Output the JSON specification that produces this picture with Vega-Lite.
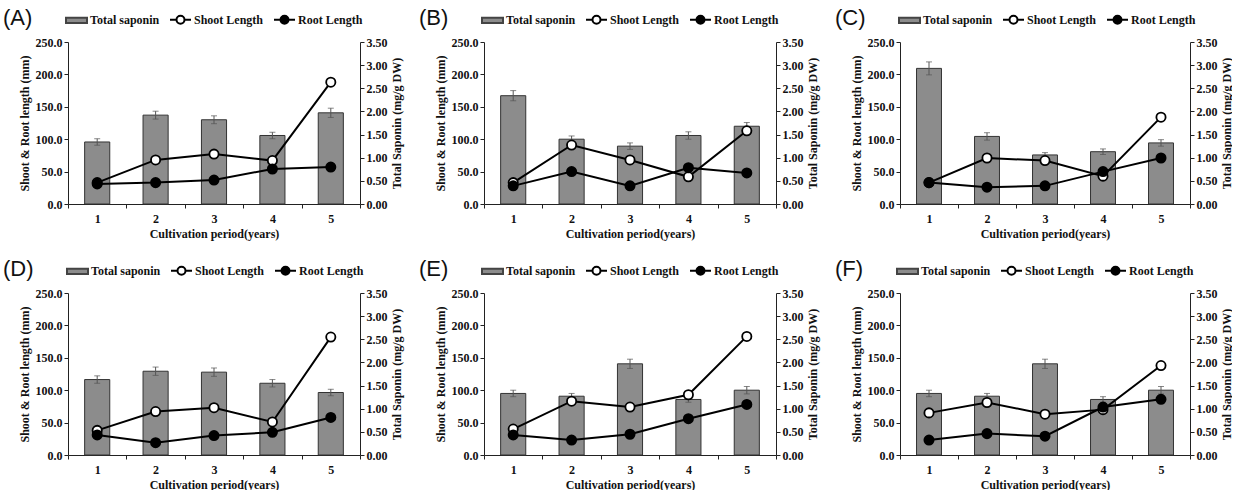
{
"$schema":"https://vega.github.io/schema/vega-lite/v6.json",
"padding":{"left":3,"top":8,"right":0,"bottom":0},
"config":{
 "view":{"stroke":null},
 "axis":{"labelFont":"Liberation Serif","labelFontWeight":"bold","labelFontSize":12,"labelColor":"#111","titleFont":"Liberation Serif","titleFontWeight":"bold","titleFontSize":12,"titleColor":"#111","domainColor":"#222","tickColor":"#222","grid":false,"tickSize":4},
 "legend":{"orient":"none","direction":"horizontal","columns":3,"titleOrient":"left","titleFont":"Liberation Sans","titleFontSize":22,"titleFontWeight":"normal","titleColor":"#111","titlePadding":32,"labelFont":"Liberation Serif","labelFontWeight":"bold","labelFontSize":12,"labelColor":"#111","symbolSize":441,"symbolStrokeWidth":2,"symbolOpacity":1,"columnPadding":6,"labelOffset":2}
},
"datasets":{
 "sap":[
  {"panel":"A","year":1,"saponin":1.34,"err":0.07},{"panel":"A","year":2,"saponin":1.92,"err":0.085},{"panel":"A","year":3,"saponin":1.82,"err":0.085},{"panel":"A","year":4,"saponin":1.48,"err":0.07},{"panel":"A","year":5,"saponin":1.97,"err":0.1},
  {"panel":"B","year":1,"saponin":2.34,"err":0.11},{"panel":"B","year":2,"saponin":1.40,"err":0.07},{"panel":"B","year":3,"saponin":1.25,"err":0.07},{"panel":"B","year":4,"saponin":1.48,"err":0.08},{"panel":"B","year":5,"saponin":1.68,"err":0.08},
  {"panel":"C","year":1,"saponin":2.93,"err":0.14},{"panel":"C","year":2,"saponin":1.46,"err":0.08},{"panel":"C","year":3,"saponin":1.06,"err":0.05},{"panel":"C","year":4,"saponin":1.13,"err":0.06},{"panel":"C","year":5,"saponin":1.32,"err":0.07},
  {"panel":"D","year":1,"saponin":1.63,"err":0.08},{"panel":"D","year":2,"saponin":1.81,"err":0.09},{"panel":"D","year":3,"saponin":1.79,"err":0.09},{"panel":"D","year":4,"saponin":1.55,"err":0.08},{"panel":"D","year":5,"saponin":1.35,"err":0.07},
  {"panel":"E","year":1,"saponin":1.33,"err":0.07},{"panel":"E","year":2,"saponin":1.27,"err":0.06},{"panel":"E","year":3,"saponin":1.97,"err":0.1},{"panel":"E","year":4,"saponin":1.20,"err":0.06},{"panel":"E","year":5,"saponin":1.40,"err":0.08},
  {"panel":"F","year":1,"saponin":1.33,"err":0.07},{"panel":"F","year":2,"saponin":1.27,"err":0.06},{"panel":"F","year":3,"saponin":1.97,"err":0.1},{"panel":"F","year":4,"saponin":1.20,"err":0.06},{"panel":"F","year":5,"saponin":1.40,"err":0.08}
 ],
 "len":[
  {"panel":"A","year":1,"series":"Shoot Length","length":33},{"panel":"A","year":2,"series":"Shoot Length","length":68},{"panel":"A","year":3,"series":"Shoot Length","length":77},{"panel":"A","year":4,"series":"Shoot Length","length":67},{"panel":"A","year":5,"series":"Shoot Length","length":188},
  {"panel":"A","year":1,"series":"Root Length","length":31},{"panel":"A","year":2,"series":"Root Length","length":33},{"panel":"A","year":3,"series":"Root Length","length":37},{"panel":"A","year":4,"series":"Root Length","length":54},{"panel":"A","year":5,"series":"Root Length","length":57},
  {"panel":"B","year":1,"series":"Shoot Length","length":33},{"panel":"B","year":2,"series":"Shoot Length","length":91},{"panel":"B","year":3,"series":"Shoot Length","length":68},{"panel":"B","year":4,"series":"Shoot Length","length":42},{"panel":"B","year":5,"series":"Shoot Length","length":113},
  {"panel":"B","year":1,"series":"Root Length","length":28},{"panel":"B","year":2,"series":"Root Length","length":50},{"panel":"B","year":3,"series":"Root Length","length":28},{"panel":"B","year":4,"series":"Root Length","length":56},{"panel":"B","year":5,"series":"Root Length","length":48},
  {"panel":"C","year":1,"series":"Shoot Length","length":33},{"panel":"C","year":2,"series":"Shoot Length","length":71},{"panel":"C","year":3,"series":"Shoot Length","length":67},{"panel":"C","year":4,"series":"Shoot Length","length":43},{"panel":"C","year":5,"series":"Shoot Length","length":134},
  {"panel":"C","year":1,"series":"Root Length","length":33},{"panel":"C","year":2,"series":"Root Length","length":26},{"panel":"C","year":3,"series":"Root Length","length":28},{"panel":"C","year":4,"series":"Root Length","length":50},{"panel":"C","year":5,"series":"Root Length","length":71},
  {"panel":"D","year":1,"series":"Shoot Length","length":38},{"panel":"D","year":2,"series":"Shoot Length","length":67},{"panel":"D","year":3,"series":"Shoot Length","length":73},{"panel":"D","year":4,"series":"Shoot Length","length":51},{"panel":"D","year":5,"series":"Shoot Length","length":182},
  {"panel":"D","year":1,"series":"Root Length","length":31},{"panel":"D","year":2,"series":"Root Length","length":19},{"panel":"D","year":3,"series":"Root Length","length":30},{"panel":"D","year":4,"series":"Root Length","length":35},{"panel":"D","year":5,"series":"Root Length","length":58},
  {"panel":"E","year":1,"series":"Shoot Length","length":40},{"panel":"E","year":2,"series":"Shoot Length","length":83},{"panel":"E","year":3,"series":"Shoot Length","length":74},{"panel":"E","year":4,"series":"Shoot Length","length":93},{"panel":"E","year":5,"series":"Shoot Length","length":183},
  {"panel":"E","year":1,"series":"Root Length","length":31},{"panel":"E","year":2,"series":"Root Length","length":23},{"panel":"E","year":3,"series":"Root Length","length":32},{"panel":"E","year":4,"series":"Root Length","length":56},{"panel":"E","year":5,"series":"Root Length","length":78},
  {"panel":"F","year":1,"series":"Shoot Length","length":65},{"panel":"F","year":2,"series":"Shoot Length","length":81},{"panel":"F","year":3,"series":"Shoot Length","length":63},{"panel":"F","year":4,"series":"Shoot Length","length":70},{"panel":"F","year":5,"series":"Shoot Length","length":138},
  {"panel":"F","year":1,"series":"Root Length","length":23},{"panel":"F","year":2,"series":"Root Length","length":33},{"panel":"F","year":3,"series":"Root Length","length":29},{"panel":"F","year":4,"series":"Root Length","length":74},{"panel":"F","year":5,"series":"Root Length","length":86}
 ]
},
"columns":3,
"spacing":{"column":17,"row":20},
"resolve":{"scale":{"shape":"independent","fill":"independent","stroke":"independent"},"legend":{"shape":"independent","fill":"independent","stroke":"independent"}},
"concat":[
 {"width":292,"height":162,"resolve":{"scale":{"y":"independent"}},"layer":[
  {"data":{"name":"sap"},"transform":[{"filter":"datum.panel==='A'"}],"layer":[
   {"mark":{"type":"bar","width":{"band":0.43},"fill":"#8c8c8c","stroke":"#333","strokeWidth":1},"encoding":{"x":{"field":"year","type":"ordinal","scale":{"type":"band","paddingInner":0,"paddingOuter":0},"axis":{"title":"Cultivation period(years)","labelAngle":0,"tickBand":"extent","labelPadding":5,"titlePadding":4}},"y":{"field":"saponin","type":"quantitative","scale":{"domain":[0,3.5]},"axis":{"orient":"right","title":"Total Saponin (mg/g DW)","titleAngle":-90,"titleBaseline":"top","format":".2f","values":[0,0.5,1,1.5,2,2.5,3,3.5]}}}},
   {"mark":{"type":"errorbar","ticks":{"size":6},"color":"#555"},"encoding":{"x":{"field":"year","type":"ordinal","scale":{"type":"band","paddingInner":0,"paddingOuter":0},"axis":{"title":"Cultivation period(years)","labelAngle":0,"tickBand":"extent","labelPadding":5,"titlePadding":4}},"y":{"field":"saponin","type":"quantitative","scale":{"domain":[0,3.5]},"axis":{"orient":"right","title":"Total Saponin (mg/g DW)","titleAngle":-90,"titleBaseline":"top","format":".2f","values":[0,0.5,1,1.5,2,2.5,3,3.5]}},"yError":{"field":"err"}}}
  ]},
  {"data":{"name":"len"},"transform":[{"filter":"datum.panel==='A'"}],"layer":[
   {"mark":{"type":"line","color":"black","strokeWidth":2},"encoding":{"x":{"field":"year","type":"ordinal","scale":{"type":"band","paddingInner":0,"paddingOuter":0},"axis":{"title":"Cultivation period(years)","labelAngle":0,"tickBand":"extent","labelPadding":5,"titlePadding":4}},"y":{"field":"length","type":"quantitative","scale":{"domain":[0,250]},"axis":{"orient":"left","title":"Shoot & Root length (mm)","format":".1f","values":[0,50,100,150,200,250]}},"detail":{"field":"series"}}},
   {"mark":{"type":"point","filled":true,"size":85,"stroke":"black","strokeWidth":1.8,"opacity":1},"encoding":{"x":{"field":"year","type":"ordinal","scale":{"type":"band","paddingInner":0,"paddingOuter":0},"axis":{"title":"Cultivation period(years)","labelAngle":0,"tickBand":"extent","labelPadding":5,"titlePadding":4}},"y":{"field":"length","type":"quantitative","scale":{"domain":[0,250]},"axis":{"orient":"left","title":"Shoot & Root length (mm)","format":".1f","values":[0,50,100,150,200,250]}},"fill":{"field":"series","type":"nominal","scale":{"domain":["Total saponin","Shoot Length","Root Length"],"range":["#8c8c8c","#ffffff","#000000"]},"legend":{"title":"(A)","legendX":-65,"legendY":-34}}}}
  ]},
  {"data":{"name":"len"},"transform":[{"filter":"datum.panel==='A'"}],"mark":{"type":"point","filled":true,"opacity":0},"encoding":{
   "shape":{"field":"series","type":"nominal","scale":{"domain":["Total saponin","Shoot Length","Root Length"],"range":["M-1,-0.26L1,-0.26L1,0.26L-1,0.26Z","M-1,0L-0.38,0M0.38,0L1,0M-0.38,0A0.38,0.38,0,1,0,0.38,0A0.38,0.38,0,1,0,-0.38,0Z","M-1,0L-0.38,0M0.38,0L1,0M-0.38,0A0.38,0.38,0,1,0,0.38,0A0.38,0.38,0,1,0,-0.38,0Z"]},"legend":{"title":"(A)","legendX":-65,"legendY":-34}},
   "fill":{"field":"series","type":"nominal","scale":{"domain":["Total saponin","Shoot Length","Root Length"],"range":["#8c8c8c","#ffffff","#000000"]},"legend":{"title":"(A)","legendX":-65,"legendY":-34}},
   "stroke":{"field":"series","type":"nominal","scale":{"domain":["Total saponin","Shoot Length","Root Length"],"range":["#444444","#000000","#000000"]},"legend":{"title":"(A)","legendX":-65,"legendY":-34}}
  }}
 ]},
 {"width":292,"height":162,"resolve":{"scale":{"y":"independent"}},"layer":[
  {"data":{"name":"sap"},"transform":[{"filter":"datum.panel==='B'"}],"layer":[
   {"mark":{"type":"bar","width":{"band":0.43},"fill":"#8c8c8c","stroke":"#333","strokeWidth":1},"encoding":{"x":{"field":"year","type":"ordinal","scale":{"type":"band","paddingInner":0,"paddingOuter":0},"axis":{"title":"Cultivation period(years)","labelAngle":0,"tickBand":"extent","labelPadding":5,"titlePadding":4}},"y":{"field":"saponin","type":"quantitative","scale":{"domain":[0,3.5]},"axis":{"orient":"right","title":"Total Saponin (mg/g DW)","titleAngle":-90,"titleBaseline":"top","format":".2f","values":[0,0.5,1,1.5,2,2.5,3,3.5]}}}},
   {"mark":{"type":"errorbar","ticks":{"size":6},"color":"#555"},"encoding":{"x":{"field":"year","type":"ordinal","scale":{"type":"band","paddingInner":0,"paddingOuter":0},"axis":{"title":"Cultivation period(years)","labelAngle":0,"tickBand":"extent","labelPadding":5,"titlePadding":4}},"y":{"field":"saponin","type":"quantitative","scale":{"domain":[0,3.5]},"axis":{"orient":"right","title":"Total Saponin (mg/g DW)","titleAngle":-90,"titleBaseline":"top","format":".2f","values":[0,0.5,1,1.5,2,2.5,3,3.5]}},"yError":{"field":"err"}}}
  ]},
  {"data":{"name":"len"},"transform":[{"filter":"datum.panel==='B'"}],"layer":[
   {"mark":{"type":"line","color":"black","strokeWidth":2},"encoding":{"x":{"field":"year","type":"ordinal","scale":{"type":"band","paddingInner":0,"paddingOuter":0},"axis":{"title":"Cultivation period(years)","labelAngle":0,"tickBand":"extent","labelPadding":5,"titlePadding":4}},"y":{"field":"length","type":"quantitative","scale":{"domain":[0,250]},"axis":{"orient":"left","title":"Shoot & Root length (mm)","format":".1f","values":[0,50,100,150,200,250]}},"detail":{"field":"series"}}},
   {"mark":{"type":"point","filled":true,"size":85,"stroke":"black","strokeWidth":1.8,"opacity":1},"encoding":{"x":{"field":"year","type":"ordinal","scale":{"type":"band","paddingInner":0,"paddingOuter":0},"axis":{"title":"Cultivation period(years)","labelAngle":0,"tickBand":"extent","labelPadding":5,"titlePadding":4}},"y":{"field":"length","type":"quantitative","scale":{"domain":[0,250]},"axis":{"orient":"left","title":"Shoot & Root length (mm)","format":".1f","values":[0,50,100,150,200,250]}},"fill":{"field":"series","type":"nominal","scale":{"domain":["Total saponin","Shoot Length","Root Length"],"range":["#8c8c8c","#ffffff","#000000"]},"legend":{"title":"(B)","legendX":-65,"legendY":-34}}}}
  ]},
  {"data":{"name":"len"},"transform":[{"filter":"datum.panel==='B'"}],"mark":{"type":"point","filled":true,"opacity":0},"encoding":{
   "shape":{"field":"series","type":"nominal","scale":{"domain":["Total saponin","Shoot Length","Root Length"],"range":["M-1,-0.26L1,-0.26L1,0.26L-1,0.26Z","M-1,0L-0.38,0M0.38,0L1,0M-0.38,0A0.38,0.38,0,1,0,0.38,0A0.38,0.38,0,1,0,-0.38,0Z","M-1,0L-0.38,0M0.38,0L1,0M-0.38,0A0.38,0.38,0,1,0,0.38,0A0.38,0.38,0,1,0,-0.38,0Z"]},"legend":{"title":"(B)","legendX":-65,"legendY":-34}},
   "fill":{"field":"series","type":"nominal","scale":{"domain":["Total saponin","Shoot Length","Root Length"],"range":["#8c8c8c","#ffffff","#000000"]},"legend":{"title":"(B)","legendX":-65,"legendY":-34}},
   "stroke":{"field":"series","type":"nominal","scale":{"domain":["Total saponin","Shoot Length","Root Length"],"range":["#444444","#000000","#000000"]},"legend":{"title":"(B)","legendX":-65,"legendY":-34}}
  }}
 ]},
 {"width":290,"height":162,"resolve":{"scale":{"y":"independent"}},"layer":[
  {"data":{"name":"sap"},"transform":[{"filter":"datum.panel==='C'"}],"layer":[
   {"mark":{"type":"bar","width":{"band":0.43},"fill":"#8c8c8c","stroke":"#333","strokeWidth":1},"encoding":{"x":{"field":"year","type":"ordinal","scale":{"type":"band","paddingInner":0,"paddingOuter":0},"axis":{"title":"Cultivation period(years)","labelAngle":0,"tickBand":"extent","labelPadding":5,"titlePadding":4}},"y":{"field":"saponin","type":"quantitative","scale":{"domain":[0,3.5]},"axis":{"orient":"right","title":"Total Saponin (mg/g DW)","titleAngle":-90,"titleBaseline":"top","format":".2f","values":[0,0.5,1,1.5,2,2.5,3,3.5]}}}},
   {"mark":{"type":"errorbar","ticks":{"size":6},"color":"#555"},"encoding":{"x":{"field":"year","type":"ordinal","scale":{"type":"band","paddingInner":0,"paddingOuter":0},"axis":{"title":"Cultivation period(years)","labelAngle":0,"tickBand":"extent","labelPadding":5,"titlePadding":4}},"y":{"field":"saponin","type":"quantitative","scale":{"domain":[0,3.5]},"axis":{"orient":"right","title":"Total Saponin (mg/g DW)","titleAngle":-90,"titleBaseline":"top","format":".2f","values":[0,0.5,1,1.5,2,2.5,3,3.5]}},"yError":{"field":"err"}}}
  ]},
  {"data":{"name":"len"},"transform":[{"filter":"datum.panel==='C'"}],"layer":[
   {"mark":{"type":"line","color":"black","strokeWidth":2},"encoding":{"x":{"field":"year","type":"ordinal","scale":{"type":"band","paddingInner":0,"paddingOuter":0},"axis":{"title":"Cultivation period(years)","labelAngle":0,"tickBand":"extent","labelPadding":5,"titlePadding":4}},"y":{"field":"length","type":"quantitative","scale":{"domain":[0,250]},"axis":{"orient":"left","title":"Shoot & Root length (mm)","format":".1f","values":[0,50,100,150,200,250]}},"detail":{"field":"series"}}},
   {"mark":{"type":"point","filled":true,"size":85,"stroke":"black","strokeWidth":1.8,"opacity":1},"encoding":{"x":{"field":"year","type":"ordinal","scale":{"type":"band","paddingInner":0,"paddingOuter":0},"axis":{"title":"Cultivation period(years)","labelAngle":0,"tickBand":"extent","labelPadding":5,"titlePadding":4}},"y":{"field":"length","type":"quantitative","scale":{"domain":[0,250]},"axis":{"orient":"left","title":"Shoot & Root length (mm)","format":".1f","values":[0,50,100,150,200,250]}},"fill":{"field":"series","type":"nominal","scale":{"domain":["Total saponin","Shoot Length","Root Length"],"range":["#8c8c8c","#ffffff","#000000"]},"legend":{"title":"(C)","legendX":-65,"legendY":-34}}}}
  ]},
  {"data":{"name":"len"},"transform":[{"filter":"datum.panel==='C'"}],"mark":{"type":"point","filled":true,"opacity":0},"encoding":{
   "shape":{"field":"series","type":"nominal","scale":{"domain":["Total saponin","Shoot Length","Root Length"],"range":["M-1,-0.26L1,-0.26L1,0.26L-1,0.26Z","M-1,0L-0.38,0M0.38,0L1,0M-0.38,0A0.38,0.38,0,1,0,0.38,0A0.38,0.38,0,1,0,-0.38,0Z","M-1,0L-0.38,0M0.38,0L1,0M-0.38,0A0.38,0.38,0,1,0,0.38,0A0.38,0.38,0,1,0,-0.38,0Z"]},"legend":{"title":"(C)","legendX":-65,"legendY":-34}},
   "fill":{"field":"series","type":"nominal","scale":{"domain":["Total saponin","Shoot Length","Root Length"],"range":["#8c8c8c","#ffffff","#000000"]},"legend":{"title":"(C)","legendX":-65,"legendY":-34}},
   "stroke":{"field":"series","type":"nominal","scale":{"domain":["Total saponin","Shoot Length","Root Length"],"range":["#444444","#000000","#000000"]},"legend":{"title":"(C)","legendX":-65,"legendY":-34}}
  }}
 ]},
 {"width":292,"height":162,"resolve":{"scale":{"y":"independent"}},"layer":[
  {"data":{"name":"sap"},"transform":[{"filter":"datum.panel==='D'"}],"layer":[
   {"mark":{"type":"bar","width":{"band":0.43},"fill":"#8c8c8c","stroke":"#333","strokeWidth":1},"encoding":{"x":{"field":"year","type":"ordinal","scale":{"type":"band","paddingInner":0,"paddingOuter":0},"axis":{"title":"Cultivation period(years)","labelAngle":0,"tickBand":"extent","labelPadding":5,"titlePadding":4}},"y":{"field":"saponin","type":"quantitative","scale":{"domain":[0,3.5]},"axis":{"orient":"right","title":"Total Saponin (mg/g DW)","titleAngle":-90,"titleBaseline":"top","format":".2f","values":[0,0.5,1,1.5,2,2.5,3,3.5]}}}},
   {"mark":{"type":"errorbar","ticks":{"size":6},"color":"#555"},"encoding":{"x":{"field":"year","type":"ordinal","scale":{"type":"band","paddingInner":0,"paddingOuter":0},"axis":{"title":"Cultivation period(years)","labelAngle":0,"tickBand":"extent","labelPadding":5,"titlePadding":4}},"y":{"field":"saponin","type":"quantitative","scale":{"domain":[0,3.5]},"axis":{"orient":"right","title":"Total Saponin (mg/g DW)","titleAngle":-90,"titleBaseline":"top","format":".2f","values":[0,0.5,1,1.5,2,2.5,3,3.5]}},"yError":{"field":"err"}}}
  ]},
  {"data":{"name":"len"},"transform":[{"filter":"datum.panel==='D'"}],"layer":[
   {"mark":{"type":"line","color":"black","strokeWidth":2},"encoding":{"x":{"field":"year","type":"ordinal","scale":{"type":"band","paddingInner":0,"paddingOuter":0},"axis":{"title":"Cultivation period(years)","labelAngle":0,"tickBand":"extent","labelPadding":5,"titlePadding":4}},"y":{"field":"length","type":"quantitative","scale":{"domain":[0,250]},"axis":{"orient":"left","title":"Shoot & Root length (mm)","format":".1f","values":[0,50,100,150,200,250]}},"detail":{"field":"series"}}},
   {"mark":{"type":"point","filled":true,"size":85,"stroke":"black","strokeWidth":1.8,"opacity":1},"encoding":{"x":{"field":"year","type":"ordinal","scale":{"type":"band","paddingInner":0,"paddingOuter":0},"axis":{"title":"Cultivation period(years)","labelAngle":0,"tickBand":"extent","labelPadding":5,"titlePadding":4}},"y":{"field":"length","type":"quantitative","scale":{"domain":[0,250]},"axis":{"orient":"left","title":"Shoot & Root length (mm)","format":".1f","values":[0,50,100,150,200,250]}},"fill":{"field":"series","type":"nominal","scale":{"domain":["Total saponin","Shoot Length","Root Length"],"range":["#8c8c8c","#ffffff","#000000"]},"legend":{"title":"(D)","legendX":-65,"legendY":-34}}}}
  ]},
  {"data":{"name":"len"},"transform":[{"filter":"datum.panel==='D'"}],"mark":{"type":"point","filled":true,"opacity":0},"encoding":{
   "shape":{"field":"series","type":"nominal","scale":{"domain":["Total saponin","Shoot Length","Root Length"],"range":["M-1,-0.26L1,-0.26L1,0.26L-1,0.26Z","M-1,0L-0.38,0M0.38,0L1,0M-0.38,0A0.38,0.38,0,1,0,0.38,0A0.38,0.38,0,1,0,-0.38,0Z","M-1,0L-0.38,0M0.38,0L1,0M-0.38,0A0.38,0.38,0,1,0,0.38,0A0.38,0.38,0,1,0,-0.38,0Z"]},"legend":{"title":"(D)","legendX":-65,"legendY":-34}},
   "fill":{"field":"series","type":"nominal","scale":{"domain":["Total saponin","Shoot Length","Root Length"],"range":["#8c8c8c","#ffffff","#000000"]},"legend":{"title":"(D)","legendX":-65,"legendY":-34}},
   "stroke":{"field":"series","type":"nominal","scale":{"domain":["Total saponin","Shoot Length","Root Length"],"range":["#444444","#000000","#000000"]},"legend":{"title":"(D)","legendX":-65,"legendY":-34}}
  }}
 ]},
 {"width":292,"height":162,"resolve":{"scale":{"y":"independent"}},"layer":[
  {"data":{"name":"sap"},"transform":[{"filter":"datum.panel==='E'"}],"layer":[
   {"mark":{"type":"bar","width":{"band":0.43},"fill":"#8c8c8c","stroke":"#333","strokeWidth":1},"encoding":{"x":{"field":"year","type":"ordinal","scale":{"type":"band","paddingInner":0,"paddingOuter":0},"axis":{"title":"Cultivation period(years)","labelAngle":0,"tickBand":"extent","labelPadding":5,"titlePadding":4}},"y":{"field":"saponin","type":"quantitative","scale":{"domain":[0,3.5]},"axis":{"orient":"right","title":"Total Saponin (mg/g DW)","titleAngle":-90,"titleBaseline":"top","format":".2f","values":[0,0.5,1,1.5,2,2.5,3,3.5]}}}},
   {"mark":{"type":"errorbar","ticks":{"size":6},"color":"#555"},"encoding":{"x":{"field":"year","type":"ordinal","scale":{"type":"band","paddingInner":0,"paddingOuter":0},"axis":{"title":"Cultivation period(years)","labelAngle":0,"tickBand":"extent","labelPadding":5,"titlePadding":4}},"y":{"field":"saponin","type":"quantitative","scale":{"domain":[0,3.5]},"axis":{"orient":"right","title":"Total Saponin (mg/g DW)","titleAngle":-90,"titleBaseline":"top","format":".2f","values":[0,0.5,1,1.5,2,2.5,3,3.5]}},"yError":{"field":"err"}}}
  ]},
  {"data":{"name":"len"},"transform":[{"filter":"datum.panel==='E'"}],"layer":[
   {"mark":{"type":"line","color":"black","strokeWidth":2},"encoding":{"x":{"field":"year","type":"ordinal","scale":{"type":"band","paddingInner":0,"paddingOuter":0},"axis":{"title":"Cultivation period(years)","labelAngle":0,"tickBand":"extent","labelPadding":5,"titlePadding":4}},"y":{"field":"length","type":"quantitative","scale":{"domain":[0,250]},"axis":{"orient":"left","title":"Shoot & Root length (mm)","format":".1f","values":[0,50,100,150,200,250]}},"detail":{"field":"series"}}},
   {"mark":{"type":"point","filled":true,"size":85,"stroke":"black","strokeWidth":1.8,"opacity":1},"encoding":{"x":{"field":"year","type":"ordinal","scale":{"type":"band","paddingInner":0,"paddingOuter":0},"axis":{"title":"Cultivation period(years)","labelAngle":0,"tickBand":"extent","labelPadding":5,"titlePadding":4}},"y":{"field":"length","type":"quantitative","scale":{"domain":[0,250]},"axis":{"orient":"left","title":"Shoot & Root length (mm)","format":".1f","values":[0,50,100,150,200,250]}},"fill":{"field":"series","type":"nominal","scale":{"domain":["Total saponin","Shoot Length","Root Length"],"range":["#8c8c8c","#ffffff","#000000"]},"legend":{"title":"(E)","legendX":-65,"legendY":-34}}}}
  ]},
  {"data":{"name":"len"},"transform":[{"filter":"datum.panel==='E'"}],"mark":{"type":"point","filled":true,"opacity":0},"encoding":{
   "shape":{"field":"series","type":"nominal","scale":{"domain":["Total saponin","Shoot Length","Root Length"],"range":["M-1,-0.26L1,-0.26L1,0.26L-1,0.26Z","M-1,0L-0.38,0M0.38,0L1,0M-0.38,0A0.38,0.38,0,1,0,0.38,0A0.38,0.38,0,1,0,-0.38,0Z","M-1,0L-0.38,0M0.38,0L1,0M-0.38,0A0.38,0.38,0,1,0,0.38,0A0.38,0.38,0,1,0,-0.38,0Z"]},"legend":{"title":"(E)","legendX":-65,"legendY":-34}},
   "fill":{"field":"series","type":"nominal","scale":{"domain":["Total saponin","Shoot Length","Root Length"],"range":["#8c8c8c","#ffffff","#000000"]},"legend":{"title":"(E)","legendX":-65,"legendY":-34}},
   "stroke":{"field":"series","type":"nominal","scale":{"domain":["Total saponin","Shoot Length","Root Length"],"range":["#444444","#000000","#000000"]},"legend":{"title":"(E)","legendX":-65,"legendY":-34}}
  }}
 ]},
 {"width":290,"height":162,"resolve":{"scale":{"y":"independent"}},"layer":[
  {"data":{"name":"sap"},"transform":[{"filter":"datum.panel==='F'"}],"layer":[
   {"mark":{"type":"bar","width":{"band":0.43},"fill":"#8c8c8c","stroke":"#333","strokeWidth":1},"encoding":{"x":{"field":"year","type":"ordinal","scale":{"type":"band","paddingInner":0,"paddingOuter":0},"axis":{"title":"Cultivation period(years)","labelAngle":0,"tickBand":"extent","labelPadding":5,"titlePadding":4}},"y":{"field":"saponin","type":"quantitative","scale":{"domain":[0,3.5]},"axis":{"orient":"right","title":"Total Saponin (mg/g DW)","titleAngle":-90,"titleBaseline":"top","format":".2f","values":[0,0.5,1,1.5,2,2.5,3,3.5]}}}},
   {"mark":{"type":"errorbar","ticks":{"size":6},"color":"#555"},"encoding":{"x":{"field":"year","type":"ordinal","scale":{"type":"band","paddingInner":0,"paddingOuter":0},"axis":{"title":"Cultivation period(years)","labelAngle":0,"tickBand":"extent","labelPadding":5,"titlePadding":4}},"y":{"field":"saponin","type":"quantitative","scale":{"domain":[0,3.5]},"axis":{"orient":"right","title":"Total Saponin (mg/g DW)","titleAngle":-90,"titleBaseline":"top","format":".2f","values":[0,0.5,1,1.5,2,2.5,3,3.5]}},"yError":{"field":"err"}}}
  ]},
  {"data":{"name":"len"},"transform":[{"filter":"datum.panel==='F'"}],"layer":[
   {"mark":{"type":"line","color":"black","strokeWidth":2},"encoding":{"x":{"field":"year","type":"ordinal","scale":{"type":"band","paddingInner":0,"paddingOuter":0},"axis":{"title":"Cultivation period(years)","labelAngle":0,"tickBand":"extent","labelPadding":5,"titlePadding":4}},"y":{"field":"length","type":"quantitative","scale":{"domain":[0,250]},"axis":{"orient":"left","title":"Shoot & Root length (mm)","format":".1f","values":[0,50,100,150,200,250]}},"detail":{"field":"series"}}},
   {"mark":{"type":"point","filled":true,"size":85,"stroke":"black","strokeWidth":1.8,"opacity":1},"encoding":{"x":{"field":"year","type":"ordinal","scale":{"type":"band","paddingInner":0,"paddingOuter":0},"axis":{"title":"Cultivation period(years)","labelAngle":0,"tickBand":"extent","labelPadding":5,"titlePadding":4}},"y":{"field":"length","type":"quantitative","scale":{"domain":[0,250]},"axis":{"orient":"left","title":"Shoot & Root length (mm)","format":".1f","values":[0,50,100,150,200,250]}},"fill":{"field":"series","type":"nominal","scale":{"domain":["Total saponin","Shoot Length","Root Length"],"range":["#8c8c8c","#ffffff","#000000"]},"legend":{"title":"(F)","legendX":-65,"legendY":-34}}}}
  ]},
  {"data":{"name":"len"},"transform":[{"filter":"datum.panel==='F'"}],"mark":{"type":"point","filled":true,"opacity":0},"encoding":{
   "shape":{"field":"series","type":"nominal","scale":{"domain":["Total saponin","Shoot Length","Root Length"],"range":["M-1,-0.26L1,-0.26L1,0.26L-1,0.26Z","M-1,0L-0.38,0M0.38,0L1,0M-0.38,0A0.38,0.38,0,1,0,0.38,0A0.38,0.38,0,1,0,-0.38,0Z","M-1,0L-0.38,0M0.38,0L1,0M-0.38,0A0.38,0.38,0,1,0,0.38,0A0.38,0.38,0,1,0,-0.38,0Z"]},"legend":{"title":"(F)","legendX":-65,"legendY":-34}},
   "fill":{"field":"series","type":"nominal","scale":{"domain":["Total saponin","Shoot Length","Root Length"],"range":["#8c8c8c","#ffffff","#000000"]},"legend":{"title":"(F)","legendX":-65,"legendY":-34}},
   "stroke":{"field":"series","type":"nominal","scale":{"domain":["Total saponin","Shoot Length","Root Length"],"range":["#444444","#000000","#000000"]},"legend":{"title":"(F)","legendX":-65,"legendY":-34}}
  }}
 ]}
]
}
